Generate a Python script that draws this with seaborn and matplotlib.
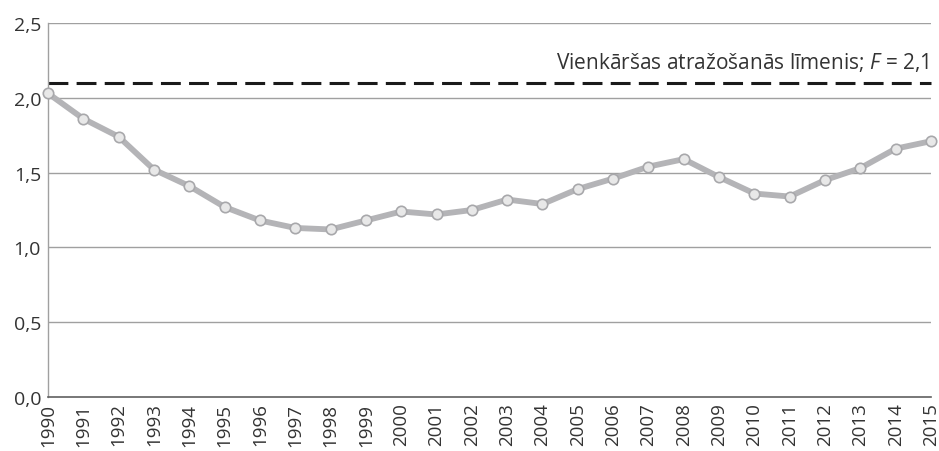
import matplotlib
matplotlib.use("Agg")
import matplotlib.pyplot as plt
import seaborn as sns
import pandas as pd

years = list(range(1990, 2016))
fertility = [2.03, 1.86, 1.74, 1.52, 1.41, 1.27, 1.18, 1.13, 1.12, 1.18,
             1.24, 1.22, 1.25, 1.32, 1.29, 1.39, 1.46, 1.54, 1.59, 1.47,
             1.36, 1.34, 1.45, 1.53, 1.66, 1.71]
replacement = 2.1
ref_label = "Vienkāršas atražošanās līmenis; $F$ = 2,1"
yticks = [0.0, 0.5, 1.0, 1.5, 2.0, 2.5]
ytick_labels = ["0,0", "0,5", "1,0", "1,5", "2,0", "2,5"]

df = pd.DataFrame({"year": years, "tfr": fertility})

sns.set_style("white")
plt.rcParams["font.family"] = ["Open Sans", "DejaVu Sans"]
plt.rcParams["mathtext.fontset"] = "custom"
plt.rcParams["mathtext.it"] = "Open Sans:italic"
plt.rcParams["mathtext.rm"] = "Open Sans"

fig = plt.figure(figsize=(9.39, 4.52), dpi=100)
ax = fig.add_axes([48 / 939, 54 / 452, 883 / 939, 374 / 452])

for y in yticks[1:]:
    ax.axhline(y, color="#a0a0a0", lw=1.0, zorder=1)

ax.axhline(replacement, color="#1a1a1a", lw=2.2, dashes=(6.5, 2.7), zorder=2, clip_on=False)

sns.lineplot(data=df, x="year", y="tfr", ax=ax, color="#b4b4b7", lw=4.2,
             marker="o", markersize=7.5, markerfacecolor="#e8e8e8",
             markeredgecolor="#a8a8ab", markeredgewidth=1.2, zorder=3, clip_on=False)

ax.text(2014.95, 2.245, ref_label, ha="right", va="center", fontsize=15,
        color="#333333")

ax.set_xlim(1990, 2015)
ax.set_ylim(0, 2.5)
ax.set_yticks(yticks)
ax.set_yticklabels(ytick_labels)
ax.set_xticks(years)
ax.set_xticklabels([str(y) for y in years], rotation=90, va="top", ha="center")
ax.tick_params(axis="both", length=0, labelsize=14, labelcolor="#333333")
ax.tick_params(axis="x", labelsize=13.5, pad=4)
ax.tick_params(axis="y", pad=5)
ax.set_xlabel("")
ax.set_ylabel("")

for s in ["top", "right"]:
    ax.spines[s].set_visible(False)
ax.spines["left"].set_color("#a0a0a0")
ax.spines["bottom"].set_color("#606060")
ax.spines["left"].set_linewidth(1.0)
ax.spines["bottom"].set_linewidth(1.2)

fig.savefig("out.png", dpi=100)
